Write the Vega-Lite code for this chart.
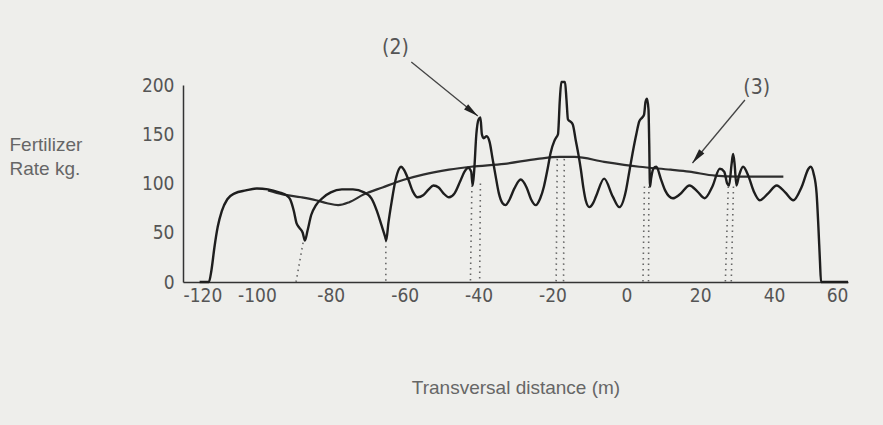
{
  "$schema": "https://vega.github.io/schema/vega-lite/v6.json",
  "width": 665,
  "height": 197,
  "autosize": {"type": "none"},
  "padding": {"left": 183, "top": 85, "right": 35, "bottom": 143},
  "background": "#eeeeeb",
  "config": {
    "view": {"stroke": null},
    "font": "Liberation Sans Narrow, Arial Narrow, DejaVu Sans Condensed, sans-serif",
    "axis": {"grid": false, "ticks": false, "domainColor": "#333333", "domainWidth": 1.5, "labelColor": "#555555", "labelFontSize": 19, "titleColor": "#666666", "titleFontWeight": "normal", "labelFont": "Liberation Sans Narrow, Arial Narrow, DejaVu Sans Condensed, sans-serif", "titleFont": "Liberation Sans, Arial, sans-serif", "labelOverlap": false}
  },
  "datasets": {
    "main": [
      {"x": -115.5, "y": 0}, {"x": -113, "y": 0}, {"x": -112.3, "y": 12}, {"x": -111.5, "y": 35}, {"x": -110.6, "y": 56}, {"x": -109.5, "y": 72}, {"x": -108, "y": 84}, {"x": -106, "y": 90}, {"x": -103, "y": 93}, {"x": -100, "y": 95}, {"x": -97, "y": 94}, {"x": -94, "y": 91}, {"x": -92, "y": 88}, {"x": -91, "y": 84}, {"x": -90, "y": 72}, {"x": -89.3, "y": 60}, {"x": -88.5, "y": 55}, {"x": -87.6, "y": 50}, {"x": -87, "y": 42}, {"x": -86.3, "y": 52}, {"x": -85.3, "y": 68}, {"x": -84, "y": 78}, {"x": -82, "y": 86}, {"x": -80, "y": 91}, {"x": -77, "y": 94}, {"x": -74, "y": 94}, {"x": -71, "y": 91}, {"x": -69, "y": 85}, {"x": -67.5, "y": 72}, {"x": -66.3, "y": 58}, {"x": -65.3, "y": 46}, {"x": -65, "y": 42}, {"x": -64.4, "y": 60}, {"x": -63.5, "y": 82}, {"x": -62.5, "y": 103}, {"x": -61.5, "y": 115}, {"x": -61, "y": 117}, {"x": -60.2, "y": 114}, {"x": -59, "y": 104}, {"x": -57.8, "y": 92}, {"x": -56.5, "y": 86}, {"x": -55, "y": 88}, {"x": -53.5, "y": 94}, {"x": -52.2, "y": 98}, {"x": -50.8, "y": 96}, {"x": -49.5, "y": 90}, {"x": -48, "y": 86}, {"x": -46.5, "y": 90}, {"x": -45, "y": 102}, {"x": -43.8, "y": 112}, {"x": -42.8, "y": 116}, {"x": -42, "y": 112}, {"x": -41.6, "y": 98}, {"x": -41.2, "y": 112}, {"x": -40.6, "y": 150}, {"x": -40, "y": 165}, {"x": -39.5, "y": 167}, {"x": -39.1, "y": 150}, {"x": -38.6, "y": 146}, {"x": -37.8, "y": 148}, {"x": -37, "y": 142}, {"x": -36.2, "y": 125}, {"x": -35.4, "y": 108}, {"x": -34.5, "y": 90}, {"x": -33.5, "y": 80}, {"x": -32.7, "y": 78}, {"x": -31.7, "y": 83}, {"x": -30.3, "y": 95}, {"x": -28.6, "y": 104}, {"x": -27, "y": 96}, {"x": -25.8, "y": 84}, {"x": -24.5, "y": 78}, {"x": -23.3, "y": 85}, {"x": -22.3, "y": 97}, {"x": -21.3, "y": 115}, {"x": -20.5, "y": 131}, {"x": -19.5, "y": 143}, {"x": -19.1, "y": 146}, {"x": -18.5, "y": 150}, {"x": -18, "y": 185}, {"x": -17.6, "y": 203}, {"x": -16.6, "y": 203}, {"x": -16.2, "y": 185}, {"x": -15.8, "y": 165}, {"x": -15.2, "y": 163}, {"x": -14.5, "y": 160}, {"x": -13.7, "y": 144}, {"x": -12.9, "y": 128}, {"x": -12.3, "y": 114}, {"x": -11.6, "y": 95}, {"x": -11, "y": 83}, {"x": -10, "y": 76}, {"x": -9, "y": 80}, {"x": -8.2, "y": 87}, {"x": -6, "y": 105}, {"x": -3.7, "y": 87}, {"x": -1.9, "y": 76}, {"x": -0.1, "y": 93}, {"x": 0.8, "y": 112}, {"x": 1.7, "y": 131}, {"x": 2.7, "y": 150}, {"x": 3.5, "y": 163}, {"x": 4.3, "y": 167}, {"x": 4.8, "y": 170}, {"x": 5.2, "y": 183}, {"x": 5.6, "y": 186}, {"x": 6.0, "y": 175}, {"x": 6.2, "y": 140}, {"x": 6.4, "y": 97}, {"x": 6.7, "y": 105}, {"x": 7.3, "y": 115}, {"x": 8.1, "y": 117}, {"x": 9.4, "y": 104}, {"x": 10.5, "y": 93}, {"x": 12.6, "y": 85}, {"x": 14.5, "y": 89}, {"x": 17.1, "y": 98}, {"x": 19.2, "y": 92}, {"x": 21.2, "y": 85}, {"x": 23.3, "y": 97}, {"x": 25.3, "y": 115}, {"x": 26.5, "y": 112}, {"x": 27.3, "y": 100}, {"x": 27.8, "y": 98}, {"x": 28.5, "y": 120}, {"x": 28.9, "y": 130}, {"x": 29.3, "y": 120}, {"x": 29.8, "y": 98}, {"x": 30.5, "y": 108}, {"x": 31.6, "y": 117}, {"x": 33, "y": 108}, {"x": 34.5, "y": 92}, {"x": 36.1, "y": 83}, {"x": 38.4, "y": 90}, {"x": 40.7, "y": 98}, {"x": 43, "y": 91}, {"x": 45.2, "y": 83}, {"x": 47.5, "y": 97}, {"x": 49.3, "y": 115}, {"x": 49.9, "y": 117}, {"x": 50.7, "y": 110}, {"x": 51.5, "y": 90}, {"x": 52, "y": 55}, {"x": 52.4, "y": 22}, {"x": 52.7, "y": 0}, {"x": 60, "y": 0}
    ],
    "trend": [
      {"x": -97, "y": 93}, {"x": -93, "y": 89}, {"x": -88, "y": 86}, {"x": -84, "y": 83}, {"x": -81, "y": 80}, {"x": -78, "y": 78}, {"x": -75, "y": 81}, {"x": -71, "y": 89}, {"x": -66, "y": 96}, {"x": -60, "y": 104}, {"x": -55, "y": 109}, {"x": -48, "y": 114}, {"x": -42, "y": 117}, {"x": -33, "y": 120}, {"x": -24, "y": 125}, {"x": -18, "y": 127}, {"x": -14, "y": 127}, {"x": -6, "y": 122}, {"x": 3.5, "y": 117}, {"x": 12, "y": 114}, {"x": 17, "y": 112}, {"x": 24, "y": 108}, {"x": 30, "y": 107}, {"x": 42.5, "y": 107}
    ],
    "dots": [
      {"x": -87.5, "y": 40, "x2": -89.4, "y2": 0},
      {"x": -65.1, "y": 42, "x2": -65.1, "y2": 0},
      {"x": -41.8, "y": 98, "x2": -42.2, "y2": 0},
      {"x": -39.5, "y": 100, "x2": -39.7, "y2": 0},
      {"x": -18.7, "y": 125, "x2": -19.0, "y2": 0},
      {"x": -16.8, "y": 125, "x2": -17.0, "y2": 0},
      {"x": 4.9, "y": 97, "x2": 4.5, "y2": 0},
      {"x": 6.1, "y": 97, "x2": 6.0, "y2": 0},
      {"x": 27.6, "y": 97, "x2": 26.8, "y2": 0},
      {"x": 29.0, "y": 97, "x2": 28.4, "y2": 0}
    ],
    "arrows": [
      {"x": -58.2, "y": 223.4, "x2": -40.2, "y2": 168.5, "angle": 127.7},
      {"x": 32.1, "y": 184.8, "x2": 17.9, "y2": 120.8, "angle": 218.7}
    ],
    "labels": [
      {"x": -62.5, "y": 237.6, "text": "(2)"},
      {"x": 35.3, "y": 197, "text": "(3)"}
    ]
  },
  "layer": [
    {
      "data": {"name": "dots"},
      "mark": {"type": "rule", "color": "#666666", "strokeWidth": 1.6, "strokeDash": [1.5, 4]},
      "encoding": {
        "x": {"field": "x", "type": "quantitative", "scale": {"domain": [-120, 60], "nice": false, "zero": false}, "axis": {"values": [-120, -100, -80, -60, -40, -20, 0, 20, 40, 60], "labelExpr": "'' + datum.value", "title": "Transversal distance (m)", "titleFontSize": 19, "titleY": 111, "titleBaseline": "alphabetic", "labelPadding": 4}},
        "y": {"field": "y", "type": "quantitative", "scale": {"domain": [0, 200], "nice": false}, "axis": {"values": [0, 50, 100, 150, 200], "title": ["Fertilizer", "Rate kg."], "titleAngle": 0, "titleAlign": "left", "titleBaseline": "top", "titleX": -174, "titleY": 50, "titleFontSize": 19, "titleLineHeight": 24, "labelPadding": 9}},
        "x2": {"field": "x2"},
        "y2": {"field": "y2"}
      }
    },
    {
      "data": {"name": "trend"},
      "mark": {"type": "line", "color": "#2e2e2e", "strokeWidth": 2.2, "interpolate": "monotone"},
      "encoding": {
        "x": {"field": "x", "type": "quantitative", "scale": {"domain": [-120, 60]}},
        "y": {"field": "y", "type": "quantitative", "scale": {"domain": [0, 200]}}
      }
    },
    {
      "data": {"name": "main"},
      "mark": {"type": "line", "color": "#1e1e1e", "strokeWidth": 2.4, "interpolate": "monotone"},
      "encoding": {
        "x": {"field": "x", "type": "quantitative", "scale": {"domain": [-120, 60]}},
        "y": {"field": "y", "type": "quantitative", "scale": {"domain": [0, 200]}}
      }
    },
    {
      "data": {"name": "arrows"},
      "mark": {"type": "rule", "color": "#444444", "strokeWidth": 1.3},
      "encoding": {
        "x": {"field": "x", "type": "quantitative"},
        "y": {"field": "y", "type": "quantitative"},
        "x2": {"field": "x2"},
        "y2": {"field": "y2"}
      }
    },
    {
      "data": {"name": "arrows"},
      "mark": {"type": "point", "shape": "M0,0L0.45,2L-0.45,2Z", "filled": true, "color": "#222222", "size": 220, "opacity": 1},
      "encoding": {
        "x": {"field": "x2", "type": "quantitative"},
        "y": {"field": "y2", "type": "quantitative"},
        "angle": {"field": "angle", "type": "quantitative", "scale": null}
      }
    },
    {
      "data": {"name": "labels"},
      "mark": {"type": "text", "fontSize": 21, "color": "#555555", "align": "center", "baseline": "middle"},
      "encoding": {
        "x": {"field": "x", "type": "quantitative"},
        "y": {"field": "y", "type": "quantitative"},
        "text": {"field": "text"}
      }
    }
  ]
}
